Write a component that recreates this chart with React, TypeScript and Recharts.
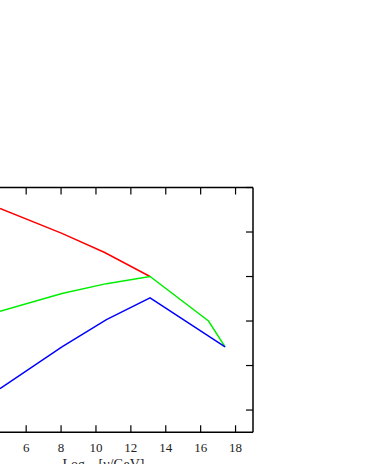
import { Label, Line, LineChart, XAxis, YAxis } from "recharts";

// log10 energy (x) for each curve
const redX = [4.5, 8.05, 10.5, 13.1];
const redY = [4.53, 3.97, 3.54, 3.0];

const greenX = [4.5, 8.05, 10.6, 13.1, 16.45, 17.4];
const greenY = [2.22, 2.62, 2.84, 3.0, 2.0, 1.42];

const blueX = [4.5, 8.05, 10.6, 13.1, 17.4];
const blueY = [0.48, 1.42, 2.03, 2.52, 1.42];

const xTicks = [6, 8, 10, 12, 14, 16, 18];
const yTicks = [0, 1, 2, 3, 4, 5];

const toPoints = (xs: number[], ys: number[]) =>
  xs.map((x, i) => ({ x, y: ys[i] }));

const FONT = "'Liberation Serif', 'DejaVu Serif', serif";
const TICK_SIZE = 7;
const TICK_MARGIN = 4;

// tick y arrives as axisY + tickSize + tickMargin
const BottomTick = (props: any) => {
  const { x, y, payload } = props;
  const axisY = y - TICK_SIZE - TICK_MARGIN;
  return (
    <g>
      <line x1={x} y1={axisY} x2={x} y2={axisY - 7} stroke="#000" strokeWidth={1.2} />
      <text
        x={x}
        y={axisY + 20}
        textAnchor="middle"
        fontFamily={FONT}
        fontSize={13}
        fill="#222"
      >
        {payload.value}
      </text>
    </g>
  );
};

const AxisTitle = (props: any) => {
  const { viewBox } = props;
  const cx = viewBox.x + viewBox.width / 2 - 23;
  return (
    <text
      x={cx}
      y={viewBox.y + 37}
      textAnchor="middle"
      fontFamily={FONT}
      fontSize={14}
      fill="#222"
    >
      Log
      <tspan fontSize={10} dy={4}>
        10
      </tspan>
      <tspan dy={-4}> [ν/GeV]</tspan>
    </text>
  );
};

export default function App() {
  return (
    <div style={{ position: "absolute", left: 0, top: 0 }}>
      <LineChart
        width={371}
        height={464}
        margin={{ top: 187.5, right: 118, bottom: 0, left: 0 }}
        style={{ background: "#fff" }}
      >
        <XAxis
          xAxisId="b"
          dataKey="x"
          type="number"
          domain={[4.5, 19]}
          ticks={xTicks}
          allowDataOverflow
          height={31.7}
          tickSize={TICK_SIZE}
          tickMargin={TICK_MARGIN}
          tickLine={false}
          tick={<BottomTick />}
          axisLine={{ stroke: "#000", strokeWidth: 1.5 }}
        >
          <Label content={<AxisTitle />} />
        </XAxis>
        <XAxis
          xAxisId="t"
          orientation="top"
          dataKey="x"
          type="number"
          domain={[4.5, 19]}
          ticks={xTicks}
          allowDataOverflow
          height={1}
          mirror
          tickSize={7}
          tickFormatter={() => ""}
          tickLine={{ stroke: "#000", strokeWidth: 1.2 }}
          axisLine={{ stroke: "#000", strokeWidth: 1.5 }}
        />
        <YAxis
          yAxisId="r"
          orientation="right"
          type="number"
          domain={[-0.5, 5]}
          ticks={yTicks}
          allowDataOverflow
          width={1}
          mirror
          tickSize={7}
          tickFormatter={() => ""}
          tickLine={{ stroke: "#000", strokeWidth: 1.2 }}
          axisLine={{ stroke: "#000", strokeWidth: 1.5 }}
        />
        <Line
          xAxisId="b"
          yAxisId="r"
          data={toPoints(redX, redY)}
          dataKey="y"
          stroke="#ff0000"
          strokeWidth={1.5}
          dot={false}
          isAnimationActive={false}
        />
        <Line
          xAxisId="b"
          yAxisId="r"
          data={toPoints(greenX, greenY)}
          dataKey="y"
          stroke="#00ee00"
          strokeWidth={1.5}
          dot={false}
          isAnimationActive={false}
        />
        <Line
          xAxisId="b"
          yAxisId="r"
          data={toPoints(blueX, blueY)}
          dataKey="y"
          stroke="#0000ff"
          strokeWidth={1.5}
          dot={false}
          isAnimationActive={false}
        />
      </LineChart>
    </div>
  );
}
